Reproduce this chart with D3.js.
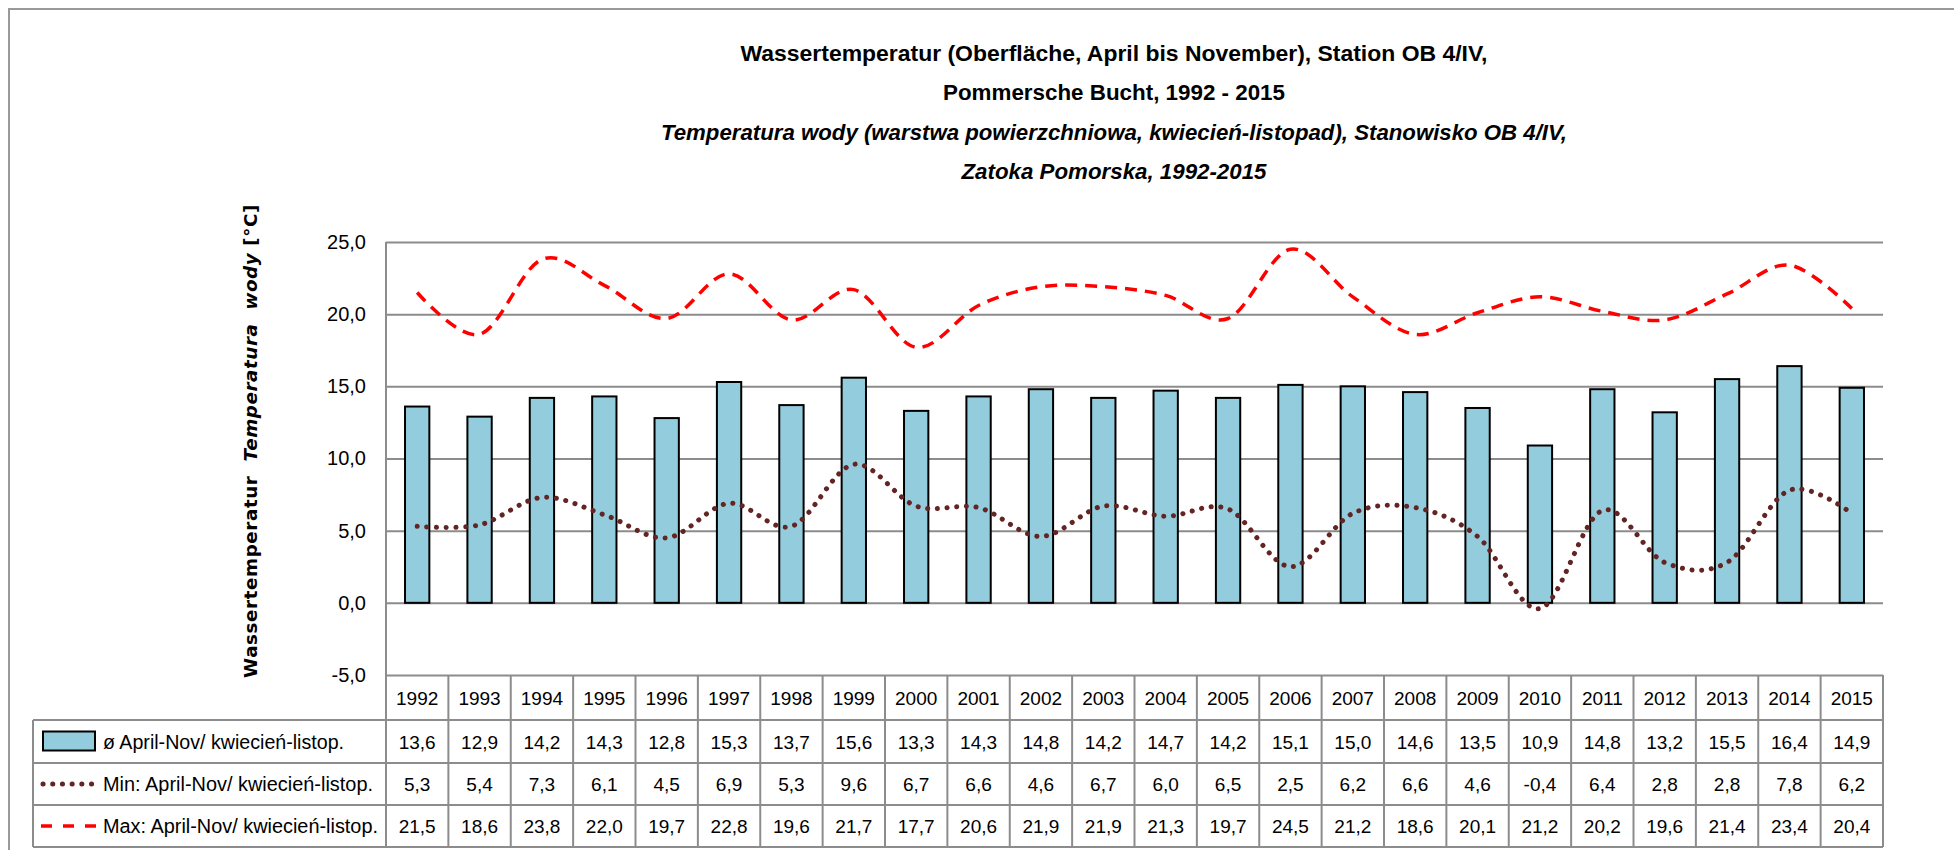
<!DOCTYPE html>
<html>
<head>
<meta charset="utf-8">
<script src="https://cdn.jsdelivr.net/npm/d3@7"></script>
<style>
  body { margin: 0; background: #fff; }
  text { font-family: "Liberation Sans", Arial, sans-serif; fill: #000; }
</style>
</head>
<body>
<div class="canva"></div>
<script>
// data
const years = ["1992","1993","1994","1995","1996","1997","1998","1999","2000","2001","2002","2003",
               "2004","2005","2006","2007","2008","2009","2010","2011","2012","2013","2014","2015"];
const meanTemp = [13.6,12.9,14.2,14.3,12.8,15.3,13.7,15.6,13.3,14.3,14.8,14.2,14.7,14.2,15.1,15.0,14.6,13.5,10.9,14.8,13.2,15.5,16.4,14.9];
const minTemp  = [5.3,5.4,7.3,6.1,4.5,6.9,5.3,9.6,6.7,6.6,4.6,6.7,6.0,6.5,2.5,6.2,6.6,4.6,-0.4,6.4,2.8,2.8,7.8,6.2];
const maxTemp  = [21.5,18.6,23.8,22.0,19.7,22.8,19.6,21.7,17.7,20.6,21.9,21.9,21.3,19.7,24.5,21.2,18.6,20.1,21.2,20.2,19.6,21.4,23.4,20.4];
const yTicks = [-5,0,5,10,15,20,25];
const seriesNames = ["ø April-Nov/ kwiecień-listop.", "Min: April-Nov/ kwiecień-listop.", "Max: April-Nov/ kwiecień-listop."];
const titleLines = [
  "Wassertemperatur (Oberfläche, April bis November), Station OB 4/IV,",
  "Pommersche Bucht, 1992 - 2015",
  "Temperatura wody (warstwa powierzchniowa,  kwiecień-listopad), Stanowisko OB 4/IV,",
  "Zatoka Pomorska,  1992-2015"
];

const width = 1954, height = 850;
const margin = {top: 242, left: 386, right: 71, bottom: 173};
const gridColor = "#8c8c8c";
const locale = d3.formatLocale({decimal: ",", thousands: ".", grouping: [3], currency: ["", "€"], minus: "-"});
const fmt = locale.format(".1f");

const svg = d3.select(".canva").append("svg")
    .attr("width", width)
    .attr("height", height);

// outer chart frame (top + left visible)
svg.append("path")
    .attr("d", `M9,${height + 5}V9H${width + 5}`)
    .attr("fill", "none")
    .attr("stroke", "#9a9a9a")
    .attr("stroke-width", 2);

const x = d3.scaleBand()
    .domain(years)
    .range([margin.left, width - margin.right]);

const y = d3.scaleLinear()
    .domain([-5, 25])
    .range([height - margin.bottom - 2, margin.top]);

// titles
const titleX = 1114;
const titleY = [61, 100, 140, 179];
const titleW = [747, 342, 906, 305];
svg.selectAll(".title")
    .data(titleLines)
    .enter().append("text")
    .attr("class", "title")
    .attr("x", titleX)
    .attr("y", (d, i) => titleY[i])
    .attr("text-anchor", "middle")
    .attr("font-size", 22)
    .attr("font-weight", "bold")
    .attr("font-style", (d, i) => i > 1 ? "italic" : "normal")
    .attr("textLength", (d, i) => titleW[i])
    .attr("lengthAdjust", "spacingAndGlyphs")
    .text(d => d);

// gridlines
svg.append("g")
    .attr("transform", `translate(${margin.left},0)`)
    .call(d3.axisLeft(y).tickValues(yTicks).tickSize(-(x.range()[1] - margin.left)).tickFormat(""))
    .call(g => g.select(".domain").remove())
    .call(g => g.selectAll("line").attr("stroke", gridColor).attr("stroke-width", 2));

// y tick labels
svg.append("g")
    .attr("transform", `translate(${margin.left},0)`)
    .call(d3.axisLeft(y).tickValues(yTicks).tickSize(0).tickPadding(20).tickFormat(fmt))
    .call(g => g.select(".domain").remove())
    .call(g => g.selectAll("text")
        .attr("font-size", 20)
        .attr("font-family", "Liberation Sans, Arial, sans-serif")
        .attr("fill", "#000"));

// y axis title
const yTitle = svg.append("text")
    .attr("transform", "translate(257,441) rotate(-90)")
    .attr("text-anchor", "middle")
    .style("font-family", "DejaVu Sans, Verdana, sans-serif")
    .attr("font-size", 18.3)
    .attr("font-weight", "bold")
    .attr("letter-spacing", 0.6);
yTitle.append("tspan").text("Wassertemperatur\u00a0\u00a0");
yTitle.append("tspan").attr("font-style", "italic").text("Temperatura\u00a0\u00a0wody ");
yTitle.append("tspan").text("[°C]");

// bars
const barW = x.bandwidth() * 0.39;
svg.append("g").selectAll("rect")
    .data(meanTemp)
    .enter().append("rect")
    .attr("x", (d, i) => x(years[i]) + (x.bandwidth() - barW) / 2)
    .attr("y", d => y(d))
    .attr("width", barW)
    .attr("height", d => y(0) - y(d))
    .attr("fill", "#93cddd")
    .attr("stroke", "#000")
    .attr("stroke-width", 2);

// left edge of plot
svg.append("line")
    .attr("x1", margin.left).attr("x2", margin.left)
    .attr("y1", y(25)).attr("y2", y(-5))
    .attr("stroke", gridColor).attr("stroke-width", 2);

const line = d3.line()
    .x((d, i) => x(years[i]) + x.bandwidth() / 2)
    .y(d => y(d))
    .curve(d3.curveCatmullRom.alpha(0));

const minStyle = {stroke: "#632523", width: 5, dash: "0.1 9.6", cap: "round"};
const maxStyle = {stroke: "#ff0000", width: 3.5, dash: "12 8", cap: "butt"};

svg.append("path")
    .datum(maxTemp)
    .attr("d", line)
    .attr("fill", "none")
    .attr("stroke", maxStyle.stroke)
    .attr("stroke-width", maxStyle.width)
    .attr("stroke-dasharray", maxStyle.dash);

svg.append("path")
    .datum(minTemp)
    .attr("d", line)
    .attr("fill", "none")
    .attr("stroke", minStyle.stroke)
    .attr("stroke-width", minStyle.width)
    .attr("stroke-linecap", minStyle.cap)
    .attr("stroke-dasharray", minStyle.dash);

// data table
const rowY = [y(-5), 720, 763, 805, 847];
const legLeft = 33;
const tableRight = x.range()[1];
const table = svg.append("g");

// horizontal rules
rowY.slice(1).forEach(ry => {
  table.append("line")
      .attr("x1", legLeft).attr("x2", tableRight)
      .attr("y1", ry).attr("y2", ry)
      .attr("stroke", gridColor).attr("stroke-width", 2);
});
// vertical rules
years.forEach(yr => {
  table.append("line")
      .attr("x1", x(yr)).attr("x2", x(yr))
      .attr("y1", rowY[0]).attr("y2", rowY[4])
      .attr("stroke", gridColor).attr("stroke-width", 2);
});
table.append("line")
    .attr("x1", tableRight).attr("x2", tableRight)
    .attr("y1", rowY[0]).attr("y2", rowY[4])
    .attr("stroke", gridColor).attr("stroke-width", 2);
table.append("line")
    .attr("x1", legLeft).attr("x2", legLeft)
    .attr("y1", rowY[1]).attr("y2", rowY[4])
    .attr("stroke", gridColor).attr("stroke-width", 2);

// year header
table.selectAll(".yr")
    .data(years)
    .enter().append("text")
    .attr("x", d => x(d) + x.bandwidth() / 2)
    .attr("y", (rowY[0] + rowY[1]) / 2 + 7)
    .attr("text-anchor", "middle")
    .attr("font-size", 19)
    .text(d => d);

// value rows
[meanTemp, minTemp, maxTemp].forEach((vals, r) => {
  const cy = (rowY[r + 1] + rowY[r + 2]) / 2 + 7;
  table.append("g").selectAll("text")
      .data(vals)
      .enter().append("text")
      .attr("x", (d, i) => x(years[i]) + x.bandwidth() / 2)
      .attr("y", cy)
      .attr("text-anchor", "middle")
      .attr("font-size", 19)
      .text(d => fmt(d));
});

// legend keys in the table
const legW = [241, 270, 275];
seriesNames.forEach((name, r) => {
  const cy = (rowY[r + 1] + rowY[r + 2]) / 2;
  table.append("text")
      .attr("x", 103)
      .attr("y", cy + 7)
      .attr("font-size", 20)
      .attr("textLength", legW[r])
      .attr("lengthAdjust", "spacingAndGlyphs")
      .text(name);
});
const k1 = (rowY[1] + rowY[2]) / 2;
table.append("rect")
    .attr("x", 43).attr("y", k1 - 10)
    .attr("width", 52).attr("height", 19)
    .attr("fill", "#93cddd")
    .attr("stroke", "#000").attr("stroke-width", 2);
const k2 = (rowY[2] + rowY[3]) / 2;
table.append("line")
    .attr("x1", 43).attr("x2", 93)
    .attr("y1", k2).attr("y2", k2)
    .attr("stroke", minStyle.stroke)
    .attr("stroke-width", minStyle.width)
    .attr("stroke-linecap", minStyle.cap)
    .attr("stroke-dasharray", minStyle.dash);
const k3 = (rowY[3] + rowY[4]) / 2;
table.append("line")
    .attr("x1", 41).attr("x2", 97)
    .attr("y1", k3).attr("y2", k3)
    .attr("stroke", maxStyle.stroke)
    .attr("stroke-width", maxStyle.width)
    .attr("stroke-dasharray", "11 11");
</script>
</body>
</html>
